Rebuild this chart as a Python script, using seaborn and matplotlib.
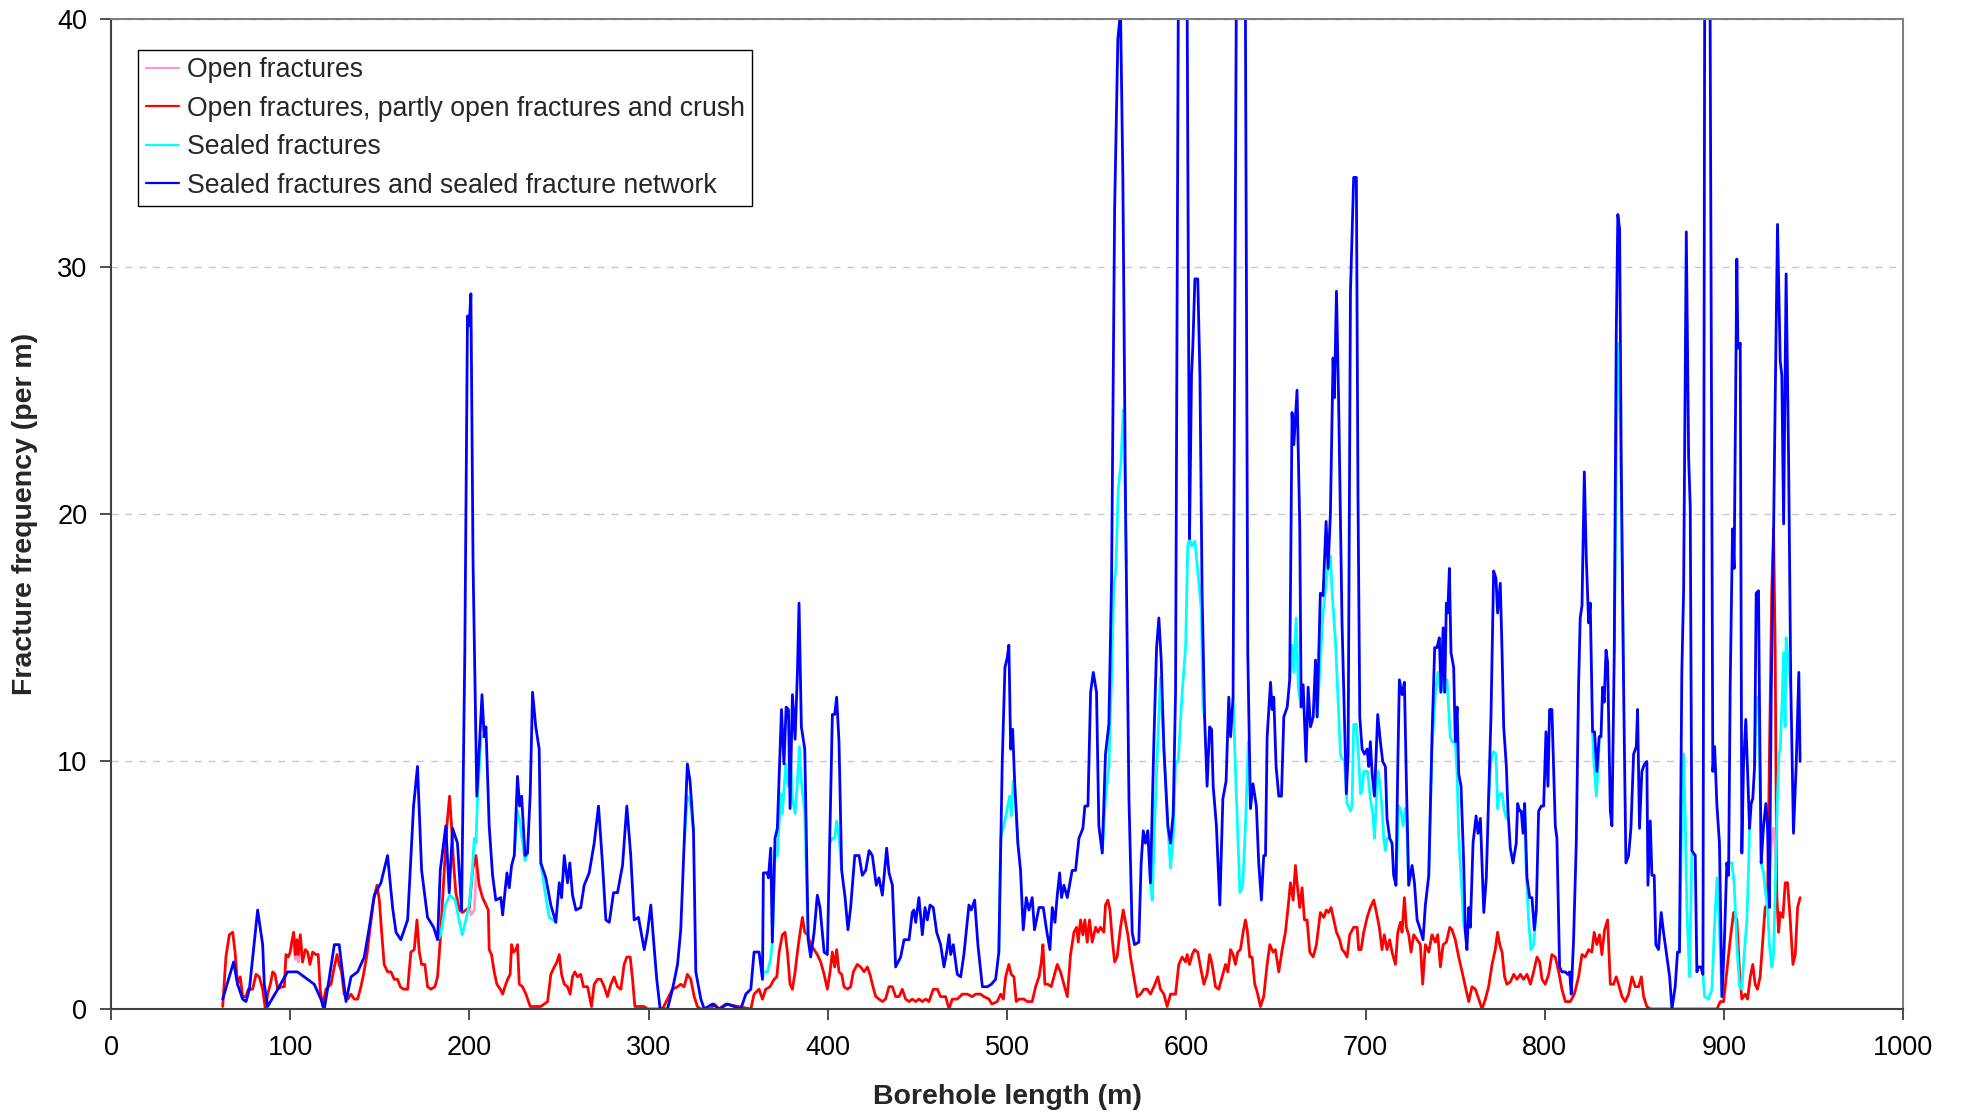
import pandas as pd
import seaborn as sns
import matplotlib
import matplotlib.pyplot as plt
from matplotlib.lines import Line2D

matplotlib.use("Agg")

series_names = [
    "Open fractures",
    "Open fractures, partly open fractures and crush",
    "Sealed fractures",
    "Sealed fractures and sealed fracture network",
]
series_colors = ["#ff99cc", "#ff0000", "#00ffff", "#0000ff"]

x_ticks = list(range(0, 1001, 100))
y_ticks = [0, 10, 20, 30, 40]

# (borehole length m, frequency per m)
blue_points = [
    (62.3, 0.4), (68.4, 1.9), (70.6, 1.0), (73.4, 0.4), (75.3, 0.3), (77.2, 0.8),
    (81.8, 4.0), (84.6, 2.6), (85.5, 1.0), (87.4, 0.1), (93.0, 0.8), (98.5, 1.5),
    (104.0, 1.5), (109.7, 1.2), (113.4, 1.0), (117.1, 0.4), (119.0, 0.0), (120.8, 0.8),
    (124.6, 2.6), (127.3, 2.6), (131.1, 0.3), (133.9, 1.3), (137.6, 1.5), (141.3, 2.1),
    (144.1, 3.3), (146.9, 4.6), (150.6, 5.1), (154.3, 6.2), (157.1, 4.1), (159.0, 3.1),
    (161.7, 2.8), (165.5, 3.6), (168.8, 8.2), (171.0, 9.8), (173.3, 5.6), (176.6, 3.7),
    (180.0, 3.3), (182.2, 2.8), (183.7, 5.6), (186.8, 7.4), (188.7, 4.7), (190.6, 7.3),
    (193.3, 6.7), (195.6, 4.0), (197.4, 14.4), (198.9, 28.0), (199.8, 27.6), (200.8, 28.9),
    (202.0, 18.0), (204.1, 8.6), (207.0, 12.7), (208.2, 11.0), (209.2, 11.4), (211.0, 7.4),
    (212.9, 5.4), (214.7, 4.4), (217.5, 4.5), (218.5, 3.8), (220.9, 5.5), (222.2, 4.9),
    (223.5, 5.8), (225.0, 6.2), (226.8, 9.4), (228.0, 8.2), (229.1, 8.6), (231.0, 6.2),
    (232.4, 6.3), (233.9, 8.7), (235.2, 12.8), (237.0, 11.4), (238.9, 10.5), (239.8, 5.9),
    (242.6, 5.3), (245.4, 4.2), (248.2, 3.5), (250.1, 5.1), (251.4, 4.5), (252.9, 6.2),
    (254.7, 5.1), (256.0, 5.9), (257.5, 4.6), (259.4, 4.0), (262.1, 4.1), (264.0, 5.0),
    (266.8, 5.5), (269.6, 6.7), (272.0, 8.2), (274.2, 5.9), (276.1, 3.6), (278.0, 3.5),
    (280.4, 4.7), (282.6, 4.7), (285.4, 5.8), (287.8, 8.2), (290.0, 6.2), (291.9, 3.6),
    (294.3, 3.7), (297.5, 2.4), (299.3, 3.1), (301.2, 4.2), (302.7, 2.8), (304.5, 1.2),
    (306.4, 0.0), (310.5, 0.0), (313.3, 0.8), (316.1, 1.8), (317.9, 3.2), (319.8, 6.7),
    (321.6, 9.9), (323.1, 9.2), (325.0, 7.2), (326.3, 1.5), (329.1, 0.4), (331.0, 0.0),
    (335.6, 0.2), (339.3, 0.0), (344.0, 0.2), (351.4, 0.0), (354.2, 0.6), (357.0, 0.8),
    (358.8, 2.3), (361.6, 2.3), (363.5, 1.2), (364.0, 5.5), (366.2, 5.5), (366.8, 5.3),
    (368.1, 6.5), (369.0, 2.7), (370.5, 6.9), (371.8, 7.3), (374.1, 12.1), (375.5, 9.9),
    (376.7, 12.2), (378.0, 12.1), (378.9, 8.1), (380.2, 12.7), (381.7, 10.9), (383.0, 13.6),
    (383.9, 16.4), (385.2, 11.4), (387.1, 10.5), (389.0, 2.8), (390.4, 2.1), (392.3, 3.1),
    (394.1, 4.6), (395.6, 4.1), (397.9, 2.3), (399.7, 2.2), (401.0, 6.7), (402.5, 11.9),
    (403.8, 11.9), (404.9, 12.6), (406.2, 10.8), (407.7, 5.6), (409.6, 4.5), (411.2, 3.2),
    (412.7, 4.1), (415.0, 6.2), (417.4, 6.2), (419.2, 5.4), (421.1, 5.6), (423.0, 6.4),
    (424.8, 6.2), (427.0, 5.0), (428.5, 5.3), (430.4, 4.6), (432.8, 6.5), (434.1, 5.5),
    (436.0, 5.0), (437.8, 1.7), (440.6, 2.1), (442.5, 2.8), (445.3, 2.8), (447.1, 3.9),
    (448.0, 4.0), (449.0, 3.5), (450.8, 4.5), (452.7, 3.0), (454.2, 4.1), (455.5, 3.6),
    (457.0, 4.2), (458.8, 4.1), (460.7, 3.1), (462.9, 2.6), (464.8, 1.7), (466.3, 2.3),
    (467.6, 3.0), (468.5, 2.2), (470.0, 2.6), (472.2, 1.4), (474.1, 1.3), (475.9, 2.2),
    (478.7, 4.2), (480.0, 4.0), (481.9, 4.4), (483.7, 2.6), (486.2, 0.9), (489.0, 0.9),
    (491.2, 1.0), (493.6, 1.2), (495.4, 2.3), (497.3, 10.0), (498.8, 13.8), (500.1, 14.2),
    (501.0, 14.7), (502.0, 10.5), (503.1, 11.3), (504.2, 9.2), (506.0, 6.7), (507.5, 5.6),
    (509.0, 3.2), (510.7, 4.5), (512.2, 4.0), (514.0, 4.5), (515.3, 3.2), (517.8, 4.1),
    (520.2, 4.1), (522.0, 3.2), (523.9, 2.4), (525.2, 4.1), (526.7, 3.5), (528.0, 4.6),
    (529.3, 5.5), (530.4, 4.5), (531.7, 5.0), (533.6, 4.5), (536.3, 5.6), (538.2, 5.6),
    (540.1, 6.9), (542.3, 7.3), (543.4, 8.2), (545.1, 8.2), (546.6, 12.8), (548.1, 13.6),
    (549.9, 12.8), (551.2, 7.4), (553.1, 6.3), (554.9, 10.3), (556.8, 11.5), (558.3, 17.4),
    (560.0, 32.3), (561.8, 39.2), (563.3, 40.3), (564.6, 33.6), (566.1, 20.3), (568.0, 8.5),
    (569.8, 3.1), (571.1, 2.6), (573.5, 2.7), (574.8, 5.9), (576.0, 7.2), (577.2, 6.7),
    (578.5, 7.2), (580.0, 5.1), (581.9, 10.8), (583.4, 14.6), (584.7, 15.8), (586.0, 14.1),
    (587.5, 10.5), (589.7, 7.4), (591.2, 6.7), (592.7, 7.9), (594.0, 12.8), (595.5, 40.0),
    (597.5, 55.0), (600.5, 40.0), (601.8, 19.0), (602.9, 25.6), (603.6, 26.7), (604.8, 29.5),
    (606.4, 29.5), (607.6, 25.6), (608.8, 16.9), (610.2, 11.8), (611.6, 9.0), (613.0, 11.4),
    (614.1, 11.3), (615.0, 9.0), (616.8, 7.4), (618.7, 4.2), (620.4, 8.5), (622.2, 9.2),
    (623.7, 12.6), (624.7, 11.0), (626.1, 12.6), (627.8, 40.0), (630.5, 60.0), (633.0, 40.0),
    (634.3, 14.4), (635.8, 8.1), (637.2, 9.1), (639.1, 8.2), (640.4, 5.9), (641.9, 4.4),
    (643.2, 6.2), (644.2, 6.2), (645.1, 11.0), (647.0, 13.2), (647.9, 12.1), (648.8, 12.6),
    (650.1, 9.8), (651.6, 8.6), (653.1, 8.6), (654.4, 11.8), (656.3, 12.2), (657.7, 13.3),
    (659.0, 24.1), (660.0, 22.8), (661.8, 25.0), (663.3, 19.5), (664.1, 12.2), (665.2, 13.1),
    (666.8, 10.0), (668.0, 13.0), (669.3, 11.4), (670.8, 11.8), (672.1, 14.1), (673.0, 11.8),
    (674.8, 16.8), (676.3, 16.7), (678.0, 19.7), (679.1, 17.8), (680.4, 20.0), (681.9, 26.3),
    (682.6, 24.7), (683.8, 29.0), (685.1, 24.1), (686.9, 15.6), (688.2, 11.8), (689.3, 8.7),
    (690.3, 10.3), (691.6, 29.0), (693.4, 33.6), (694.9, 33.6), (695.8, 20.8), (696.8, 11.8),
    (698.1, 10.5), (699.4, 10.3), (700.9, 10.5), (701.8, 9.8), (702.7, 10.8), (703.7, 9.5),
    (705.0, 8.6), (706.8, 11.9), (708.3, 10.8), (709.6, 10.0), (711.1, 9.8), (712.0, 7.7),
    (713.5, 6.9), (714.8, 6.7), (715.7, 5.4), (717.0, 5.0), (718.0, 9.8), (718.9, 13.3),
    (720.4, 12.7), (721.7, 13.2), (722.8, 9.2), (724.1, 5.0), (726.0, 5.8), (727.3, 5.1),
    (728.8, 3.6), (730.6, 3.2), (732.1, 2.8), (733.4, 4.2), (735.3, 5.4), (737.1, 11.0),
    (738.6, 14.6), (739.9, 14.6), (741.2, 15.0), (742.1, 12.8), (743.3, 15.4), (744.2, 12.8),
    (745.1, 16.4), (745.9, 16.0), (746.8, 17.8), (747.7, 14.4), (749.2, 13.8), (750.1, 10.8),
    (751.1, 12.2), (752.0, 9.5), (753.3, 9.0), (754.8, 5.9), (755.7, 3.1), (756.6, 2.4),
    (757.6, 4.1), (758.5, 3.3), (760.0, 6.7), (761.7, 7.8), (762.8, 7.1), (764.1, 7.7),
    (765.0, 5.9), (766.0, 3.9), (767.4, 5.3), (768.7, 8.5), (770.0, 11.8), (771.5, 17.7),
    (772.8, 17.4), (773.7, 16.0), (775.2, 17.2), (776.2, 14.4), (777.1, 11.4), (778.6, 9.8),
    (779.5, 8.0), (780.8, 6.5), (782.3, 5.9), (784.1, 6.7), (784.9, 8.3), (786.0, 8.0),
    (786.9, 8.0), (787.9, 7.1), (788.8, 8.3), (790.1, 5.3), (791.6, 4.5), (792.9, 4.5),
    (794.2, 3.2), (795.3, 4.0), (796.6, 8.0), (798.1, 8.2), (799.4, 8.2), (800.7, 11.2),
    (801.8, 9.0), (802.7, 12.1), (804.0, 12.1), (805.9, 7.4), (806.8, 6.9), (808.3, 1.7),
    (809.6, 1.5), (811.5, 1.5), (812.8, 1.4), (813.9, 1.5), (814.8, 0.6), (816.1, 2.8),
    (817.6, 6.7), (818.9, 13.1), (819.8, 15.8), (820.8, 16.3), (822.1, 21.7), (823.2, 18.2),
    (824.5, 15.6), (825.4, 16.4), (826.7, 11.2), (827.8, 11.2), (829.1, 9.6), (830.4, 11.0),
    (831.4, 11.0), (832.3, 13.0), (833.2, 12.4), (834.2, 14.5), (835.1, 14.0), (836.6, 8.0),
    (837.5, 7.4), (838.8, 14.4), (839.9, 27.2), (840.8, 32.1), (841.8, 31.5), (842.7, 22.1),
    (844.0, 13.1), (845.3, 5.9), (846.8, 6.2), (848.1, 7.3), (849.6, 10.3), (851.1, 10.6),
    (851.8, 12.1), (852.9, 7.3), (854.2, 9.6), (855.7, 9.9), (857.0, 10.0), (857.6, 5.0),
    (858.9, 7.6), (859.8, 5.4), (861.1, 5.4), (862.0, 2.6), (863.5, 2.4), (865.0, 3.9),
    (866.3, 3.1), (868.2, 2.1), (869.7, 1.3), (871.0, 0.0), (872.8, 0.9), (874.1, 2.3),
    (875.2, 2.3), (876.5, 13.6), (877.5, 16.9), (879.0, 31.4), (880.3, 22.3), (881.2, 20.3),
    (882.1, 6.4), (884.0, 6.2), (884.9, 1.5), (885.8, 1.7), (887.1, 1.7), (888.3, 1.4),
    (889.2, 40.0), (890.7, 60.0), (892.3, 40.0), (893.8, 9.6), (894.8, 10.6), (896.1, 8.2),
    (897.5, 6.7), (898.9, 0.5), (900.2, 2.6), (901.6, 5.9), (902.6, 5.4), (903.5, 13.1),
    (904.8, 19.4), (905.7, 17.8), (907.2, 30.3), (907.8, 26.7), (909.1, 26.9), (910.0, 6.3),
    (910.9, 9.8), (912.2, 11.7), (913.4, 9.2), (914.3, 7.3), (915.2, 8.3), (916.1, 8.5),
    (917.1, 9.8), (918.0, 16.8), (919.3, 16.9), (919.9, 11.8), (920.8, 5.9), (922.1, 7.4),
    (923.4, 8.3), (924.3, 7.4), (925.4, 4.1), (926.4, 12.8), (927.6, 18.7), (928.6, 24.6),
    (929.9, 31.7), (931.4, 26.2), (932.3, 25.6), (933.3, 19.6), (934.7, 29.7), (936.1, 22.1),
    (937.3, 13.1), (938.8, 7.1), (940.3, 9.8), (941.8, 13.6), (942.5, 10.0),
]

red_points = [
    (62.3, 0.1), (64.1, 2.1), (66.0, 3.0), (67.9, 3.1), (69.2, 2.3), (70.6, 1.0),
    (72.1, 1.3), (73.4, 0.5), (75.3, 0.5), (76.6, 0.8), (79.0, 0.8), (80.9, 1.4),
    (82.7, 1.3), (84.6, 0.8), (86.1, 0.0), (87.4, 0.6), (88.9, 1.0), (90.2, 1.5),
    (91.5, 1.4), (93.0, 0.8), (95.2, 0.9), (96.7, 0.9), (97.6, 2.2), (98.9, 2.1),
    (100.0, 2.3), (100.8, 2.7), (101.9, 3.1), (102.8, 2.2), (103.7, 2.8), (104.5, 2.2),
    (105.6, 3.0), (106.9, 1.9), (108.4, 2.4), (109.7, 2.3), (111.0, 1.8), (112.5, 2.3),
    (114.3, 2.2), (115.6, 2.2), (116.7, 0.8), (118.1, 0.1), (119.9, 0.8), (122.7, 1.0),
    (124.6, 1.7), (126.1, 2.2), (127.3, 1.8), (128.6, 1.5), (130.1, 0.6), (132.0, 0.4),
    (133.9, 0.6), (135.7, 0.4), (137.6, 0.4), (139.1, 0.8), (140.9, 1.4), (142.8, 2.2),
    (144.6, 3.3), (146.5, 4.4), (148.4, 5.0), (149.7, 4.4), (151.0, 3.1), (152.4, 1.8),
    (154.3, 1.5), (156.2, 1.5), (158.0, 1.2), (159.9, 1.2), (161.4, 0.9), (163.2, 0.8),
    (165.5, 0.8), (167.3, 2.3), (169.2, 2.4), (170.7, 3.6), (172.0, 2.3), (173.3, 1.8),
    (175.1, 1.8), (176.6, 0.9), (178.5, 0.8), (180.7, 0.9), (182.2, 1.3), (183.7, 2.8),
    (185.9, 5.5), (187.4, 7.4), (188.9, 8.6), (190.0, 7.4), (191.1, 5.9), (192.4, 4.7),
    (194.3, 4.0), (196.1, 3.9), (198.0, 4.0), (199.9, 4.1), (201.7, 5.6), (203.6, 6.2),
    (205.4, 5.0), (207.3, 4.5), (209.2, 4.2), (210.5, 4.0), (211.0, 2.4), (212.3, 2.2),
    (213.8, 1.5), (215.3, 1.0), (217.2, 0.8), (218.5, 0.6), (219.8, 0.9), (221.3, 1.2),
    (222.7, 1.4), (223.5, 2.6), (224.6, 2.3), (225.9, 2.4), (226.8, 2.6), (227.8, 1.0),
    (229.6, 0.9), (231.5, 0.6), (233.9, 0.1), (236.1, 0.1), (239.8, 0.1), (243.6, 0.3),
    (245.4, 1.4), (247.3, 1.7), (248.8, 1.9), (250.1, 2.2), (251.4, 1.4), (252.9, 1.0),
    (254.7, 0.9), (256.2, 0.6), (257.5, 1.3), (258.8, 1.5), (260.3, 1.3), (262.1, 1.4),
    (263.6, 0.9), (265.9, 0.9), (268.1, 0.1), (269.6, 1.0), (271.4, 1.2), (273.3, 1.2),
    (275.2, 0.9), (277.0, 0.5), (278.9, 1.0), (280.7, 1.3), (282.6, 0.9), (284.5, 0.8),
    (286.3, 1.8), (287.8, 2.1), (289.7, 2.1), (291.0, 1.2), (292.3, 0.1), (297.5, 0.1),
    (299.3, 0.0), (307.7, 0.0), (310.5, 0.4), (313.3, 0.8), (316.1, 0.9), (317.9, 1.0),
    (319.8, 0.9), (321.6, 1.4), (323.5, 1.2), (325.4, 0.5), (327.2, 0.1), (329.1, 0.0),
    (334.7, 0.0), (336.5, 0.2), (339.3, 0.0), (343.0, 0.2), (357.0, 0.0), (358.8, 0.6),
    (361.6, 0.8), (363.5, 0.4), (365.3, 0.8), (367.7, 0.9), (370.0, 1.2), (371.5, 1.3),
    (372.8, 2.3), (374.6, 3.0), (376.1, 3.1), (377.4, 2.3), (378.9, 1.0), (380.2, 0.8),
    (381.7, 1.5), (383.0, 2.3), (384.5, 3.1), (385.8, 3.7), (387.1, 3.1), (388.6, 3.0),
    (390.4, 2.6), (392.3, 2.4), (394.1, 2.2), (396.0, 1.9), (397.9, 1.4), (399.7, 0.8),
    (401.2, 1.5), (402.5, 2.3), (403.8, 1.7), (404.9, 2.4), (406.2, 1.5), (407.7, 1.4),
    (409.0, 0.9), (410.9, 0.8), (412.7, 0.9), (414.2, 1.5), (416.4, 1.8), (418.3, 1.7),
    (420.2, 1.5), (422.0, 1.7), (423.5, 1.4), (424.8, 1.0), (426.7, 0.5), (428.5, 0.4),
    (430.4, 0.3), (432.2, 0.4), (434.1, 0.9), (436.0, 0.9), (437.8, 0.5), (439.7, 0.5),
    (441.5, 0.8), (443.4, 0.4), (445.3, 0.3), (447.1, 0.4), (449.0, 0.3), (450.8, 0.4),
    (452.7, 0.3), (454.6, 0.4), (456.4, 0.3), (458.8, 0.8), (461.1, 0.8), (462.9, 0.5),
    (465.7, 0.5), (467.6, 0.0), (469.4, 0.4), (472.2, 0.4), (475.0, 0.6), (477.8, 0.6),
    (480.6, 0.5), (482.4, 0.6), (485.2, 0.6), (487.1, 0.5), (489.9, 0.4), (491.5, 0.2),
    (494.5, 0.3), (496.4, 0.6), (497.9, 0.4), (499.2, 1.3), (501.0, 1.8), (502.3, 1.4),
    (503.8, 1.3), (505.1, 0.3), (506.6, 0.4), (509.4, 0.4), (511.2, 0.3), (514.0, 0.3),
    (515.9, 0.9), (517.8, 1.3), (519.1, 1.9), (520.0, 2.6), (521.1, 1.0), (522.8, 1.0),
    (524.6, 0.9), (526.1, 1.3), (528.0, 1.8), (529.8, 1.5), (531.7, 1.0), (533.6, 0.5),
    (535.4, 2.2), (537.3, 3.1), (538.8, 3.3), (539.7, 2.7), (541.0, 3.6), (542.3, 3.0),
    (543.4, 3.6), (544.7, 2.7), (546.0, 3.6), (547.5, 2.7), (549.4, 3.3), (550.7, 3.1),
    (552.1, 3.3), (554.0, 3.1), (554.9, 4.2), (556.2, 4.4), (557.4, 4.0), (558.7, 2.8),
    (560.0, 1.9), (561.4, 2.1), (563.3, 3.3), (564.8, 4.0), (566.1, 3.5), (567.4, 3.0),
    (568.9, 2.1), (570.7, 1.3), (572.6, 0.5), (574.5, 0.6), (576.3, 0.8), (578.2, 0.8),
    (580.0, 0.6), (581.9, 0.9), (584.1, 1.3), (585.6, 0.8), (587.5, 0.6), (589.3, 0.1),
    (591.2, 0.6), (594.0, 0.6), (595.8, 1.8), (597.7, 2.1), (599.6, 1.9), (600.5, 2.2),
    (601.8, 1.8), (603.3, 2.2), (604.6, 2.4), (606.4, 2.3), (607.9, 1.7), (609.8, 1.0),
    (611.6, 1.4), (613.0, 2.2), (614.4, 1.8), (616.3, 0.9), (618.1, 0.8), (620.0, 1.3),
    (621.9, 1.8), (623.2, 1.5), (624.7, 2.4), (626.1, 2.2), (627.4, 1.8), (628.7, 2.3),
    (630.2, 2.4), (631.7, 3.1), (633.0, 3.6), (634.0, 3.2), (635.4, 2.1), (636.7, 2.1),
    (638.2, 1.0), (639.5, 0.7), (641.4, 0.1), (643.2, 0.5), (645.1, 1.8), (646.6, 2.6),
    (648.4, 2.3), (649.7, 2.4), (651.6, 1.5), (653.5, 2.4), (655.3, 3.1), (656.8, 4.1),
    (658.1, 5.1), (659.6, 4.4), (660.9, 5.8), (661.8, 5.1), (663.3, 4.1), (664.6, 4.9),
    (665.9, 3.6), (667.4, 3.6), (668.9, 2.3), (670.8, 2.1), (672.6, 2.6), (674.8, 3.9),
    (676.7, 3.7), (678.2, 4.0), (679.5, 3.9), (680.8, 4.1), (682.3, 3.6), (683.8, 3.1),
    (685.6, 2.8), (686.9, 2.4), (688.2, 2.3), (689.7, 2.1), (691.2, 3.0), (693.4, 3.3),
    (695.3, 3.3), (696.2, 2.4), (697.5, 2.4), (699.0, 3.1), (700.9, 3.7), (702.7, 4.1),
    (704.6, 4.4), (706.1, 3.9), (707.7, 3.3), (709.2, 2.4), (710.5, 3.0), (712.0, 2.4),
    (713.5, 2.8), (714.8, 2.3), (716.7, 1.8), (718.0, 3.1), (719.5, 3.5), (720.4, 3.1),
    (721.7, 4.5), (722.8, 3.3), (724.1, 3.0), (725.4, 2.3), (726.9, 3.0), (728.8, 2.8),
    (730.6, 2.6), (731.9, 1.0), (733.4, 2.6), (735.3, 2.3), (737.1, 3.0), (739.0, 2.7),
    (740.3, 3.0), (741.8, 1.7), (743.3, 2.6), (745.1, 2.7), (747.0, 3.3), (748.3, 3.2),
    (750.1, 2.8), (752.0, 2.1), (753.9, 1.5), (755.7, 0.9), (757.6, 0.3), (759.4, 0.9),
    (761.3, 0.8), (763.2, 0.4), (765.0, 0.0), (766.9, 0.4), (768.7, 0.9), (770.6, 1.8),
    (772.4, 2.4), (773.7, 3.1), (774.9, 2.6), (776.2, 2.3), (777.6, 1.3), (778.9, 1.0),
    (780.8, 1.1), (782.7, 1.4), (784.5, 1.2), (786.4, 1.4), (788.2, 1.2), (790.1, 1.4),
    (792.0, 1.0), (793.8, 1.5), (795.7, 2.1), (797.2, 1.9), (798.5, 1.2), (800.3, 1.0),
    (802.2, 1.4), (804.0, 2.2), (805.9, 2.1), (807.8, 1.5), (809.6, 0.8), (811.5, 0.3),
    (814.3, 0.3), (816.5, 0.6), (818.9, 1.3), (820.8, 2.2), (822.6, 2.1), (824.5, 2.4),
    (826.3, 2.3), (827.6, 3.1), (829.1, 2.6), (830.6, 3.0), (831.9, 2.2), (833.4, 3.2),
    (835.1, 3.6), (836.6, 1.0), (838.4, 1.0), (839.9, 1.3), (841.2, 1.0), (843.1, 0.5),
    (844.9, 0.3), (846.8, 0.6), (848.7, 1.3), (850.5, 0.9), (852.4, 0.9), (853.9, 1.3),
    (855.2, 0.5), (857.0, 0.1), (858.9, 0.0), (896.1, 0.0), (898.0, 0.3), (899.8, 0.3),
    (901.6, 1.5), (903.5, 2.8), (905.4, 3.9), (907.2, 3.6), (908.7, 1.5), (910.0, 0.4),
    (911.9, 0.6), (913.2, 0.4), (914.7, 1.3), (916.1, 1.8), (917.4, 1.0), (918.7, 0.8),
    (920.2, 1.3), (921.7, 2.8), (923.0, 4.1), (924.3, 4.2), (925.4, 10.3), (926.7, 16.9),
    (927.7, 19.4), (928.6, 14.4), (929.5, 4.6), (930.5, 3.1), (931.4, 3.9), (932.9, 3.7),
    (934.2, 5.1), (935.5, 5.1), (937.0, 3.6), (938.5, 1.8), (939.8, 2.2), (941.1, 4.1),
    (942.5, 4.5),
]

# sealed fractures only, where it leaves the blue curve (None = break)
cyan_points = [
    (182.2, 2.8), (184.0, 3.0), (186.5, 4.2), (189.0, 4.6), (192.0, 4.4), (194.5, 3.5),
    (196.0, 3.0), (198.0, 3.6), (200.0, 4.3), (201.5, 5.5), (202.7, 6.9), (203.6, 6.7),
    (204.5, 8.5), (206.4, 11.0), (208.2, 11.0), None,
    (225.0, 6.2), (226.8, 8.0), (228.0, 7.6), (229.1, 7.0), (231.0, 6.0), (232.4, 6.3), None,
    (239.8, 5.9), (242.0, 4.8), (244.5, 3.7), (246.5, 3.6), (248.2, 3.5), None,
    (319.8, 6.7), (321.6, 8.6), (323.1, 8.4), (325.0, 7.2), None,
    (363.5, 1.2), (364.2, 1.5), (366.2, 1.5), (368.0, 2.0), (369.0, 2.7), (370.5, 6.2),
    (371.8, 6.2), (373.7, 8.7), (374.6, 7.9), (376.5, 9.9), (377.8, 9.0), (379.3, 9.8),
    (380.2, 8.5), (381.7, 7.9), (383.0, 9.2), (384.1, 10.6), (385.2, 9.2), (387.1, 7.9),
    (389.0, 2.8), None,
    (401.0, 6.7), (402.5, 6.9), (403.8, 6.9), (404.9, 7.6), (406.2, 6.9), (407.7, 5.6), None,
    (495.4, 2.3), (496.4, 6.9), (498.2, 7.4), (500.1, 8.1), (501.4, 8.6), (502.3, 7.8),
    (503.4, 9.2), (504.7, 8.5), (506.0, 6.7), None,
    (553.1, 6.3), (554.9, 8.5), (556.8, 9.8), (558.3, 13.5), (559.5, 17.0), (560.7, 17.8),
    (562.0, 21.0), (563.5, 22.0), (564.8, 24.2), (565.5, 22.5), (566.5, 18.0), None,
    (578.5, 7.2), (580.0, 5.1), (581.0, 4.4), (582.3, 7.5), (583.8, 10.3), (585.6, 13.4),
    (587.5, 10.5), (589.7, 7.4), (591.2, 5.7), (592.7, 7.0), (594.0, 10.0), (595.5, 10.0),
    (597.7, 12.8), (599.6, 14.6), (600.8, 18.7), (601.8, 19.0), (603.0, 18.7), (604.8, 18.9),
    (606.4, 17.7), (608.4, 16.1), (609.3, 12.2), (610.2, 11.8), None,
    (626.1, 12.6), (627.5, 9.5), (629.9, 4.7), (631.5, 5.0), (633.0, 7.4), (634.6, 10.8),
    (635.8, 8.1), None,
    (657.7, 13.3), (659.0, 14.7), (660.0, 13.6), (661.3, 15.8), (662.5, 13.0), (664.1, 12.2), None,
    (673.0, 11.8), (674.8, 14.1), (676.3, 16.0), (677.6, 16.9), (679.5, 18.2), (680.4, 18.3),
    (681.3, 16.9), (683.2, 14.9), (684.5, 12.8), (686.0, 10.3), (686.9, 10.1), (688.2, 10.1),
    (689.7, 8.3), (691.6, 8.0), (692.5, 8.2), (693.4, 11.5), (694.9, 11.5), (696.2, 10.1),
    (697.2, 8.7), (698.1, 8.8), (699.0, 9.6), (701.2, 9.6), (702.7, 8.5), (704.2, 7.8),
    (705.0, 6.9), (706.1, 8.5), (707.0, 9.6), (708.0, 9.2), (709.2, 8.1), (710.2, 6.9),
    (711.1, 6.4), (712.0, 6.9), (713.5, 6.9), None,
    (717.0, 5.0), (718.5, 8.2), (719.8, 8.0), (721.0, 7.4), (722.2, 8.1), (722.8, 8.0),
    (724.1, 5.0), None,
    (735.3, 5.4), (737.1, 10.5), (739.0, 12.8), (740.5, 13.6), (741.8, 12.8), (742.7, 13.3),
    (744.0, 12.8), (745.5, 13.3), (747.3, 11.0), (748.3, 10.8), (750.1, 10.8), (751.1, 9.5),
    (752.0, 7.0), (753.9, 4.6), (754.8, 3.4), (755.7, 3.1), None,
    (768.7, 8.5), (770.0, 10.0), (771.5, 10.4), (772.8, 10.3), (773.7, 8.1), (774.9, 8.7),
    (776.2, 8.7), (777.5, 8.0), (778.6, 7.7), (779.5, 8.0), None,
    (788.8, 8.3), (789.5, 5.9), (791.0, 3.6), (792.3, 2.4), (793.8, 2.6), (795.3, 4.0), None,
    (826.7, 11.2), (827.3, 10.1), (828.8, 8.6), (830.0, 10.0), (830.4, 11.0), None,
    (838.8, 14.4), (839.9, 22.0), (840.8, 26.9), (841.8, 26.0), (842.7, 21.0), (844.0, 13.1), None,
    (875.2, 2.3), (876.5, 8.0), (877.5, 10.3), (878.4, 7.7), (879.3, 4.1), (880.8, 1.3),
    (882.1, 6.3), (884.0, 6.2), None,
    (888.3, 1.4), (889.2, 0.5), (891.4, 0.4), (893.3, 0.8), (894.6, 3.1), (896.1, 5.3),
    (897.5, 3.3), (898.9, 0.5), None,
    (901.6, 5.9), (902.6, 5.9), (904.4, 5.9), (905.7, 5.1), (907.2, 2.6), (908.7, 0.9),
    (910.0, 0.8), (910.9, 1.8), (912.8, 3.6), (913.7, 5.6), (914.3, 7.3), None,
    (917.1, 9.8), (918.0, 12.6), (919.3, 12.6), (919.9, 10.3), (920.8, 5.9), (922.1, 5.5),
    (923.4, 4.6), (924.3, 4.1), (925.4, 2.6), (926.7, 1.7), (927.6, 2.1), (928.6, 4.6),
    (929.7, 8.2), (930.7, 10.3), (931.4, 10.5), (932.3, 12.1), (933.3, 14.4), (934.1, 11.4),
    (934.7, 15.0), (935.5, 14.4), (937.3, 13.1),
]

# open fractures only, where it shows below the red curve
pink_points = [
    (100.8, 2.5), (101.9, 2.6), (102.8, 2.0), (103.7, 2.3), (104.5, 1.9), (105.6, 2.5),
    (106.9, 1.9), None,
    (199.9, 4.1), (200.8, 3.8), (202.7, 4.0), (204.1, 6.0), None,
    (924.3, 4.2), (925.4, 5.5), (926.7, 6.9), (927.7, 7.3), (928.6, 6.6), (929.5, 4.6),
]


def to_frame(points, name):
    rows = []
    seg = 0
    for p in points:
        if p is None:
            seg += 1
            continue
        rows.append((p[0], p[1], name, seg))
    return pd.DataFrame(rows, columns=["depth", "freq", "series", "seg"])


df = pd.concat(
    [
        to_frame(pink_points, series_names[0]),
        to_frame(red_points, series_names[1]),
        to_frame(cyan_points, series_names[2]),
        to_frame(blue_points, series_names[3]),
    ],
    ignore_index=True,
)

sns.set_style("ticks")
plt.rcParams["font.family"] = ["Liberation Sans", "DejaVu Sans"]

fig, ax = plt.subplots(figsize=(19.62, 11.18), dpi=100)
fig.subplots_adjust(left=0.0566, right=0.970, top=0.983, bottom=0.0975)

palette = dict(zip(series_names, series_colors))
sns.lineplot(
    data=df,
    x="depth",
    y="freq",
    hue="series",
    hue_order=series_names,
    palette=palette,
    units="seg",
    estimator=None,
    sort=False,
    linewidth=2.0,
    legend=False,
    ax=ax,
)

ax.set_xlim(0, 1000)
ax.set_ylim(0, 40)
ax.set_xticks(x_ticks)
ax.set_yticks(y_ticks)
ax.tick_params(axis="both", direction="out", length=8, width=1.3, colors="#404040",
               labelcolor="black", labelsize=19.5)
ax.tick_params(axis="x", pad=11)
ax.tick_params(axis="y", pad=9)

ax.yaxis.grid(True, color="#c8c8c8", linestyle=(0, (5, 5)), linewidth=1)
ax.xaxis.grid(False)

for side in ["left", "bottom"]:
    ax.spines[side].set_color("#404040")
    ax.spines[side].set_linewidth(1.5)
for side in ["top", "right"]:
    ax.spines[side].set_visible(True)
    ax.spines[side].set_color("#808080")
    ax.spines[side].set_linewidth(1.5)

ax.set_xlabel("Borehole length (m)", fontsize=20.5, fontweight="bold", labelpad=16)
ax.set_ylabel("Fracture frequency (per m)", fontsize=20.5, fontweight="bold", labelpad=14)

handles = [Line2D([0], [0], color=c, linewidth=1.6) for c in series_colors]
leg = ax.legend(
    handles,
    series_names,
    loc="upper left",
    bbox_to_anchor=(0.0153, 0.969),
    borderaxespad=0,
    fontsize=19.2,
    frameon=True,
    fancybox=False,
    framealpha=1,
    edgecolor="black",
    handlelength=1.25,
    handletextpad=0.28,
    labelspacing=0.47,
    borderpad=0.28,
)
leg.get_frame().set_linewidth(1.0)

plt.savefig("out.png", dpi=100)
plt.close()
